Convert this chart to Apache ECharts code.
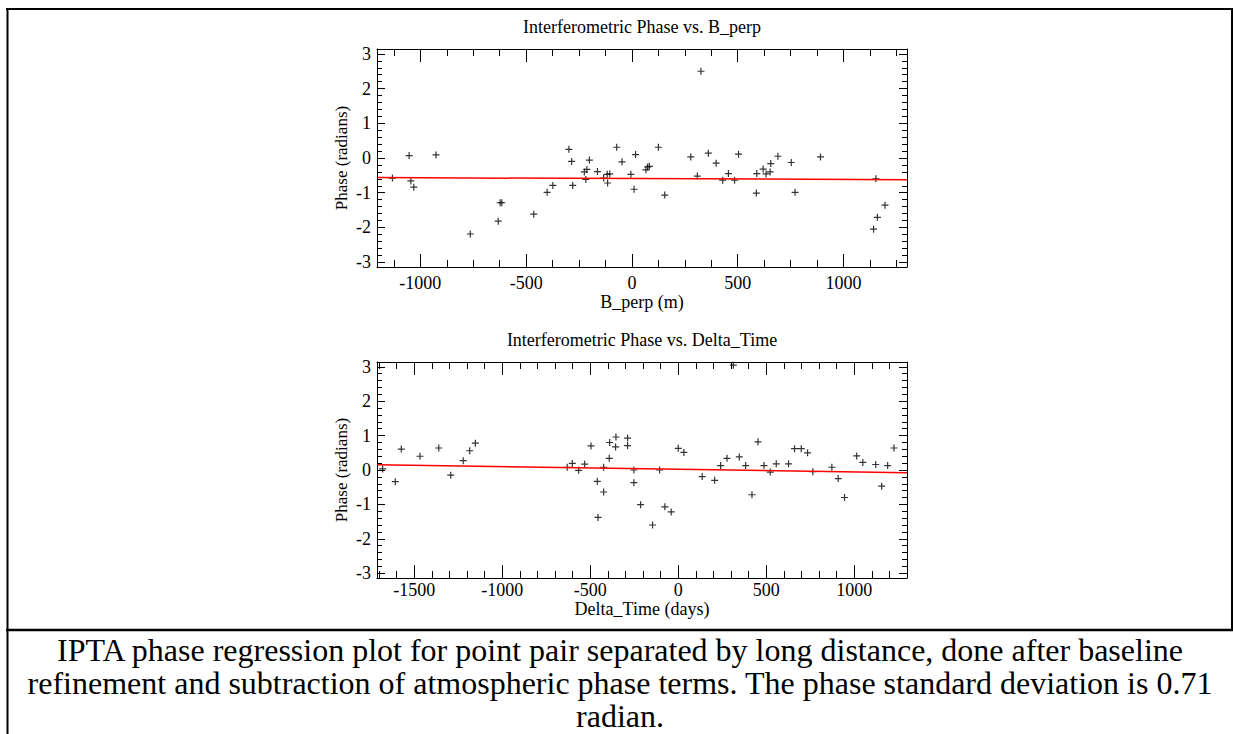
<!DOCTYPE html>
<html>
<head>
<meta charset="utf-8">
<title>IPTA phase regression</title>
<script src="https://cdn.jsdelivr.net/npm/echarts@6/dist/echarts.min.js"></script>
<style>
html, body { margin: 0; padding: 0; background: #fff; }
#chart { width: 1233px; height: 734px; }
</style>
</head>
<body>
<div id="chart"></div>
<script>
// top panel: phase vs B_perp
var bPerp  = [-1132, -1053, -1045, -1031, -926, -764, -632, -623, -615, -464, -401, -374, -298, -285, -280, -201, -225, -213, -218, -163,
              -134, -115, -117, -105, -72, -47, -5, 10, 17, 66, 74, 82, 125, 155, 278, 309, 326, 361, 398, 429,
              456, 485, 504, 588, 590, 620, 634, 653, 656, 690, 753, 771, 891, 1153, 1160, 1142, 1196];
var phaseB = [-0.58, 0.07, -0.66, -0.84, 0.09, -2.19, -1.82, -1.29, -1.29, -1.62, -0.99, -0.79, 0.25, -0.10, -0.79, -0.06, -0.40, -0.33, -0.62, -0.39,
              -0.58, -0.72, -0.47, -0.46, 0.31, -0.11, -0.47, -0.90, 0.10, -0.34, -0.26, -0.24, 0.31, -1.07, 0.03, -0.52, 2.50, 0.14, -0.15, -0.64,
              -0.45, -0.64, 0.11, -1.01, -0.45, -0.32, -0.46, -0.40, -0.16, 0.05, -0.13, -0.99, 0.03, -0.60, -1.71, -2.05, -1.36];
var fitBPerp  = [-1205, 1300];
var fitPhaseB = [-0.565, -0.625];

// bottom panel: phase vs Delta_Time
var deltaTime = [-1680, -1608, -1574, -1468, -1361, -1293, -1222, -1185, -1153, -631, -602, -566, -532, -496, -460, -456, -424, -424, -392, -390,
                 -354, -356, -288, -288, -252, -252, -214, -146, -106, -76, -40, 0, 32, 136, 207, 241, 277, 313, 347, 383,
                 419, 453, 487, 523, 557, 627, 661, 699, 735, 765, 873, 909, 945, 1014, 1049, 1122, 1156, 1190, 1226];
var phaseT    = [0.03, -0.34, 0.61, 0.40, 0.64, -0.15, 0.27, 0.56, 0.78, 0.08, 0.19, -0.01, 0.17, 0.70, -0.33, -1.38, -0.64, 0.08, 0.34, 0.80,
                 0.96, 0.67, 0.93, 0.71, 0.00, -0.37, -1.01, -1.60, 0.00, -1.07, -1.22, 0.63, 0.51, -0.19, -0.30, 0.13, 0.34, 3.05, 0.38, 0.13,
                 -0.72, 0.82, 0.13, -0.06, 0.18, 0.18, 0.62, 0.62, 0.50, -0.05, 0.08, -0.25, -0.80, 0.41, 0.22, 0.16, -0.47, 0.13, 0.64];
var fitDeltaTime = [-1712, 1300];
var fitPhaseT    = [0.15, -0.08];

// ticks
var bPerpTicks = [-1000, -500, 0, 500, 1000];
var bPerpMinor = [-1125, -875, -750, -625, -375, -250, -125, 125, 250, 375, 625, 750, 875, 1125, 1250];
var timeTicks  = [-1500, -1000, -500, 0, 500, 1000];
var timeMinor  = [-1700, -1600, -1400, -1300, -1200, -1100, -900, -800, -700, -600, -400, -300, -200, -100,
                  100, 200, 300, 400, 600, 700, 800, 900, 1100, 1200];
var phaseTicks = [-3, -2, -1, 0, 1, 2, 3];
var phaseMinor = [-2.8, -2.6, -2.4, -2.2, -1.8, -1.6, -1.4, -1.2, -0.8, -0.6, -0.4, -0.2,
                  0.2, 0.4, 0.6, 0.8, 1.2, 1.4, 1.6, 1.8, 2.2, 2.4, 2.6, 2.8];

var titles = ['Interferometric Phase vs. B_perp', 'Interferometric Phase vs. Delta_Time'];
var caption = [
    'IPTA phase regression plot for point pair separated by long distance, done after baseline',
    'refinement and subtraction of atmospheric phase terms. The phase standard deviation is 0.71',
    'radian.'
];

var FONT = 'Liberation Serif';
var PI = 3.1416;

function zip(a, b) {
    return a.map(function (v, i) { return [v, b[i]]; });
}

// one axis = one side of the frame, one set of ticks
function axis(grid, pos, min, max, ticks, len, line, label) {
    var a = {
        gridIndex: grid, type: 'value', position: pos, offset: 0, min: min, max: max,
        axisLine: {show: line, onZero: false, lineStyle: {color: '#000', width: 1}},
        axisTick: {show: true, inside: true, length: len, customValues: ticks, lineStyle: {color: '#000', width: 1}},
        axisLabel: {show: false, customValues: ticks},
        splitLine: {show: false},
        minorTick: {show: false}
    };
    if (label) {
        a.axisLabel = {
            show: true, customValues: ticks, color: '#000', fontFamily: FONT, fontSize: 18, margin: label.margin,
            formatter: function (v) { return String(v); }
        };
        a.name = label.name;
        a.nameLocation = 'middle';
        a.nameGap = label.gap;
        a.nameTextStyle = {color: '#000', fontFamily: FONT, fontSize: label.size || 18};
    }
    return a;
}

var xAxes = [
    axis(0, 'bottom', -1205, 1300, bPerpTicks, 13, true, {name: 'B_perp (m)', margin: 7, gap: 25}),
    axis(0, 'bottom', -1205, 1300, bPerpMinor, 7, false),
    axis(0, 'top', -1205, 1300, bPerpTicks, 13, true),
    axis(0, 'top', -1205, 1300, bPerpMinor, 7, false),
    axis(1, 'bottom', -1712, 1300, timeTicks, 13, true, {name: 'Delta_Time (days)', margin: 3, gap: 21}),
    axis(1, 'bottom', -1712, 1300, timeMinor, 7, false),
    axis(1, 'top', -1712, 1300, timeTicks, 13, true),
    axis(1, 'top', -1712, 1300, timeMinor, 7, false)
];
var yAxes = [];
[0, 1].forEach(function (g) {
    yAxes.push(axis(g, 'left', -PI, PI, phaseTicks, 8, true, {name: 'Phase (radians)', margin: 6, gap: 27, size: 17}));
    yAxes.push(axis(g, 'left', -PI, PI, phaseMinor, 5, false));
    yAxes.push(axis(g, 'right', -PI, PI, phaseTicks, 8, true));
    yAxes.push(axis(g, 'right', -PI, PI, phaseMinor, 5, false));
});

var plus = 'path://M-0.6,-3.5H0.6V3.5H-0.6Z M-3.5,-0.6H3.5V0.6H-3.5Z';

function label(text, x, y, size) {
    return {type: 'text', x: x, y: y, style: {text: text, font: size + 'px Liberation Serif', fill: '#000',
        align: 'center', verticalAlign: 'middle', textAlign: 'center', textVerticalAlign: 'middle'}};
}

var chart = echarts.init(document.getElementById('chart'), null, {renderer: 'svg'});
chart.setOption({
    animation: false,
    backgroundColor: '#fff',
    textStyle: {fontFamily: FONT},
    grid: [
        {left: 377, top: 49, width: 530, height: 218},
        {left: 377, top: 362, width: 530, height: 216}
    ],
    xAxis: xAxes,
    yAxis: yAxes,
    series: [
        {
            type: 'scatter', xAxisIndex: 0, yAxisIndex: 0, data: zip(bPerp, phaseB),
            symbol: plus, symbolSize: 7, itemStyle: {color: '#000'}, z: 2, silent: true
        },
        {
            type: 'line', xAxisIndex: 0, yAxisIndex: 0, data: zip(fitBPerp, fitPhaseB),
            showSymbol: false, lineStyle: {color: '#ff0000', width: 1.5}, z: 3, silent: true
        },
        {
            type: 'scatter', xAxisIndex: 4, yAxisIndex: 4, data: zip(deltaTime, phaseT),
            symbol: plus, symbolSize: 7, itemStyle: {color: '#000'}, z: 2, silent: true
        },
        {
            type: 'line', xAxisIndex: 4, yAxisIndex: 4, data: zip(fitDeltaTime, fitPhaseT),
            showSymbol: false, lineStyle: {color: '#ff0000', width: 1.5}, z: 3, silent: true
        }
    ],
    graphic: [
        // table borders
        {type: 'line', shape: {x1: 6, y1: 9, x2: 1233, y2: 9}, style: {stroke: '#000', lineWidth: 2}},
        {type: 'line', shape: {x1: 7.5, y1: 8, x2: 7.5, y2: 734}, style: {stroke: '#000', lineWidth: 2}},
        {type: 'line', shape: {x1: 1232, y1: 8, x2: 1232, y2: 631}, style: {stroke: '#000', lineWidth: 2}},
        {type: 'line', shape: {x1: 6, y1: 630, x2: 1233, y2: 630}, style: {stroke: '#000', lineWidth: 2.5}},
        // panel titles
        label(titles[0], 642, 27, 18),
        label(titles[1], 642, 340, 18),
        // caption, one text per line
        label(caption[0], 620, 650, 32),
        label(caption[1], 620, 683, 32),
        label(caption[2], 620, 716, 32)
    ]
});
</script>
</body>
</html>
